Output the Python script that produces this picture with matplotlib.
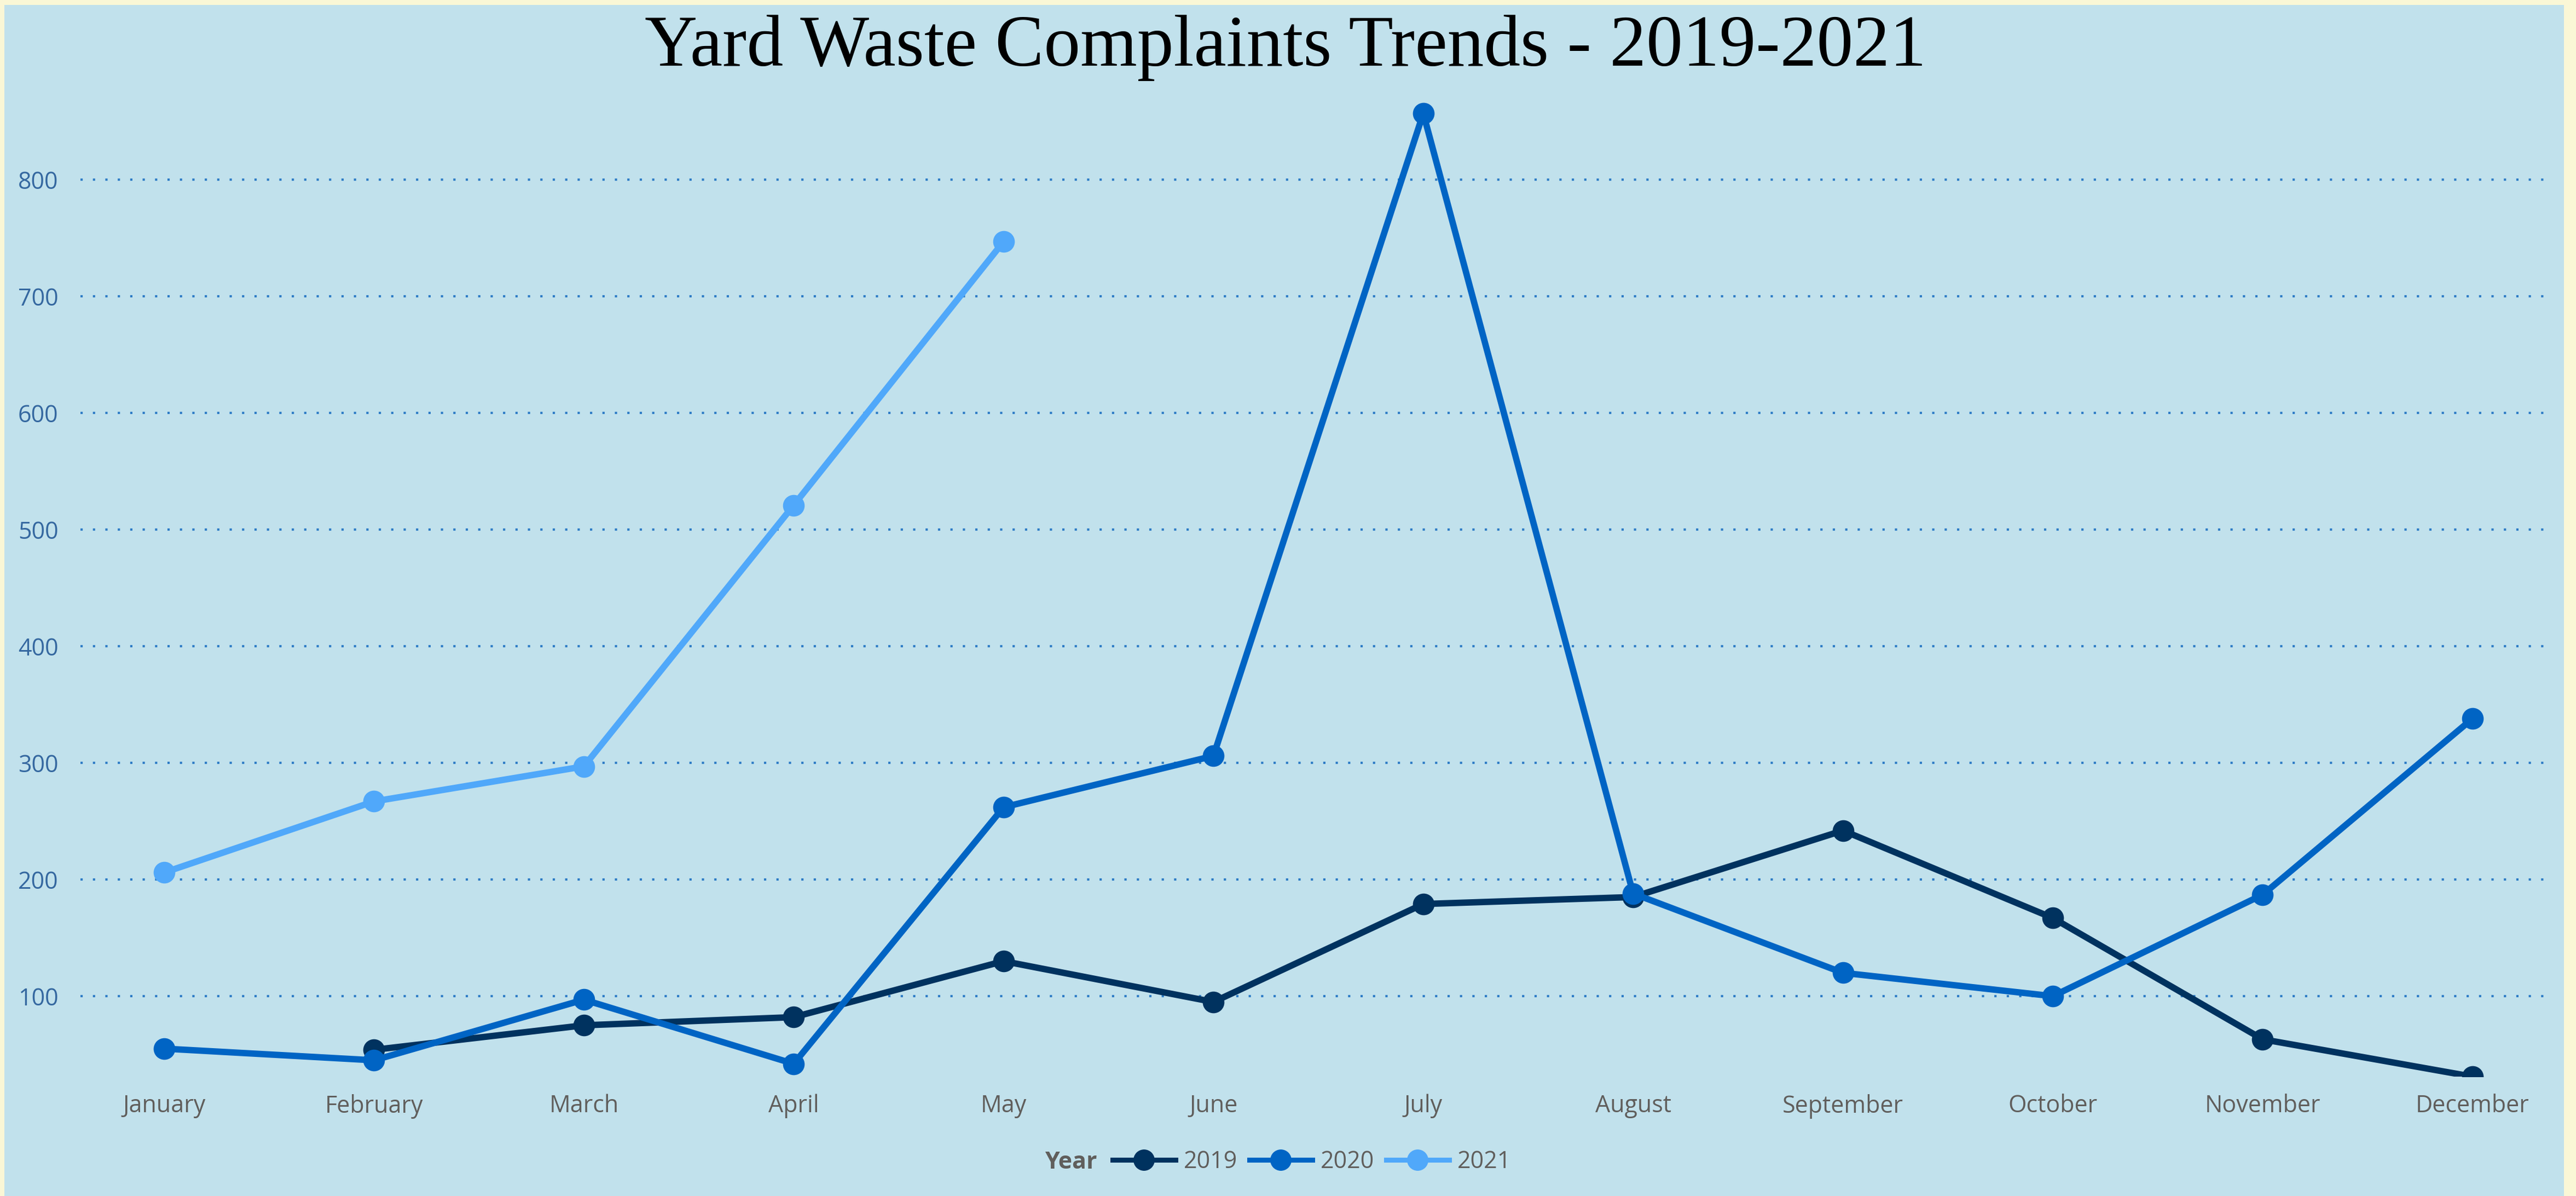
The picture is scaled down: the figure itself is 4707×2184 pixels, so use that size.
import numpy as np
import pandas as pd
from matplotlib import pyplot as plt
from matplotlib.patches import Rectangle
from matplotlib.lines import Line2D

# data
months = ['January', 'February', 'March', 'April', 'May', 'June', 'July',
          'August', 'September', 'October', 'November', 'December']
years = ['2019', '2020', '2021']
y2019 = [np.nan, 54, 75, 82, 130, 95, 179, 185, 242, 167, 63, 31]
y2020 = [55, 45, 97, 42, 262, 306, 857, 188, 120, 100, 187, 338]
y2021 = [206, 267, 297, 521, 747]
yticks = [100, 200, 300, 400, 500, 600, 700, 800]

colors = {'2019': '#00325F', '2020': '#0064C4', '2021': '#50A8FA'}
bg = '#C1E1EC'
border = '#FAF7D6'
label_gray = '#605E5C'
tick_blue = '#3568A0'

df = pd.DataFrame({'2019': y2019, '2020': y2020,
                   '2021': y2021 + [np.nan] * (len(months) - len(y2021))},
                  index=months)

W, H = 4707, 2184
fig = plt.figure(figsize=(W / 100, H / 100), dpi=100, facecolor=border)
fig.patches.append(Rectangle((8 / W, 0), (4685 - 8) / W, 1 - 9 / H,
                             transform=fig.transFigure, facecolor=bg,
                             edgecolor='none', zorder=-5))

ax = fig.add_axes([147 / W, 1 - 1966 / H, (4651 - 147) / W, (1966 - 158) / H])
ax.set_facecolor('none')
ax.set_zorder(2)

x = np.arange(len(months))
for yr in years:
    ax.plot(x, df[yr].values, color=colors[yr], lw=8.4, marker='o',
            markersize=27.5, solid_joinstyle='round', solid_capstyle='round',
            zorder=3)

ax.set_xlim(-0.399, 11.347)
ax.set_ylim(31, 880)
ax.set_xticks(x)
ax.set_xticklabels(months)
ax.set_yticks(yticks)
ax.set_yticklabels([str(v) for v in yticks])

for t in ax.get_xticklabels():
    t.set_fontfamily('Open Sans')
    t.set_fontsize(31)
    t.set_color(label_gray)
for t in ax.get_yticklabels():
    t.set_fontfamily('Open Sans')
    t.set_fontsize(31)
    t.set_color(tick_blue)

ax.tick_params(axis='both', length=0)
ax.tick_params(axis='x', pad=23)
ax.tick_params(axis='y', pad=29)
for s in ax.spines.values():
    s.set_visible(False)

ax.yaxis.grid(True, color='#2E7CC6', lw=3.0, linestyle=(0, (1, 4.45)), zorder=1)
ax.set_axisbelow(True)

fig.text(0.499, 1 - 120 / H, 'Yard Waste Complaints Trends - 2019-2021',
         ha='center', va='baseline', fontsize=96, fontfamily='Liberation Serif',
         color='black')

# legend
handles = [Line2D([0], [0], color=colors[yr], lw=6.5, marker='o', markersize=27)
           for yr in years]
leg = fig.legend(handles, years, loc='center left',
                 bbox_to_anchor=(2033 / W, 1 - 2122 / H), ncol=3, frameon=False,
                 borderpad=0, borderaxespad=0, handlelength=2.67,
                 handletextpad=0.35, columnspacing=0.5,
                 prop={'family': 'Open Sans', 'size': 31})
for t in leg.get_texts():
    t.set_color(label_gray)
fig.text(2005 / W, 1 - 2122 / H, 'Year', ha='right', va='center',
         fontsize=31, fontweight='bold', fontfamily='Open Sans', color=label_gray)

fig.savefig('out.png', dpi=100, facecolor=border)
